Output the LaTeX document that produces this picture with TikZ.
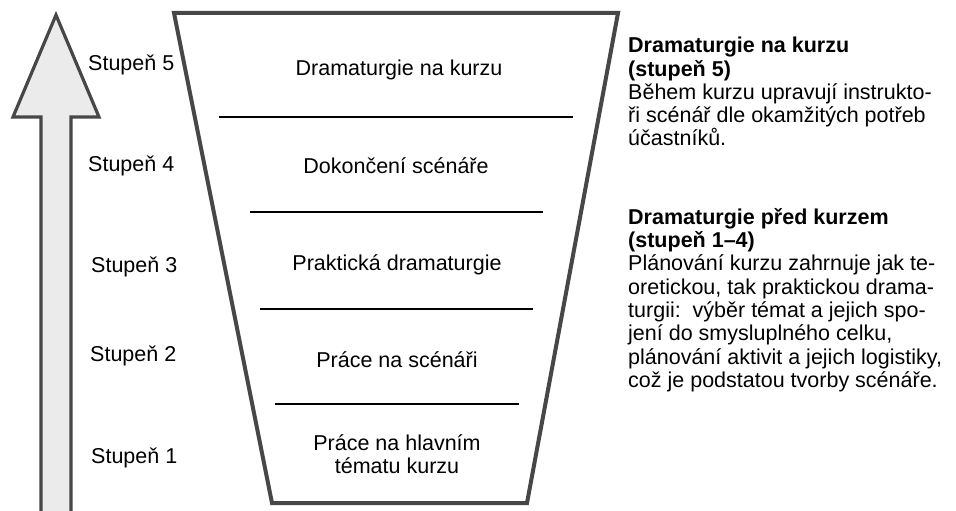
\documentclass[tikz,border=0pt]{standalone}
\usepackage{fontspec}
\setmainfont{Liberation Sans}
\usetikzlibrary{positioning}

\begin{document}
\begin{tikzpicture}[x=1pt,y=-1pt,
    every node/.style={font=\fontsize{21.5}{23.3}\selectfont},
    level/.style={anchor=west,inner sep=0pt},
    stage/.style={align=center,inner sep=0pt},
    note/.style={anchor=north west,align=left,inner sep=0pt}]
  \useasboundingbox (0,0) rectangle (956,511);
  % arrow
  \draw[line width=3.2pt,draw=black!72,fill=black!8,line join=miter]
    (41,511) -- (41,117) -- (13,117) -- (56,15) -- (99,117) -- (71,117) -- (71,511);
  % trapezoid
  \coordinate (TL) at (174,13);
  \coordinate (TR) at (618,13);
  \coordinate (BR) at (527,503);
  \coordinate (BL) at (272,503);
  \draw[line width=4pt,draw=black!72,line join=miter] (TL) -- (TR) -- (BR) -- (BL) -- cycle;
  % dividers
  \draw[line width=1.2pt] (219,117) -- (573,117);
  \draw[line width=1.2pt] (250,212) -- (543,212);
  \draw[line width=1.2pt] (260,309) -- (533,309);
  \draw[line width=1.2pt] (275,404) -- (519,404);
  % stages
  \node[stage] (s5) at (399,70) {Dramaturgie na kurzu};
  \node[stage] (s4) at (396,166) {Dokončení scénáře};
  \node[stage] (s3) at (397,265) {Praktická dramaturgie};
  \node[stage] (s2) at (397,360) {Práce na scénáři};
  \node[stage] (s1) at (397,454) {Práce na hlavním\\tématu kurzu};
  % levels
  \node[level] (l5) at (88,65) {Stupeň 5};
  \node[level] (l4) at (88,166) {Stupeň 4};
  \node[level] (l3) at (91,267) {Stupeň 3};
  \node[level] (l2) at (90,356) {Stupeň 2};
  \node[level] (l1) at (91,458) {Stupeň 1};
  % notes
  \node[note] (n1) at (628,37) {\textbf{Dramaturgie na kurzu}\\\textbf{(stupeň 5)}\\Během kurzu upravují instrukto-\\ři scénář dle okamžitých potřeb\\účastníků.};
  \node[note] (n2) at (628,208) {\textbf{Dramaturgie před kurzem}\\\textbf{(stupeň 1–4)}\\Plánování kurzu zahrnuje jak te-\\oretickou, tak praktickou drama-\\turgii:\ \ výběr témat a jejich spo-\\jení do smysluplného celku,\\plánování aktivit a jejich logistiky,\\což je podstatou tvorby scénáře.};
\end{tikzpicture}
\end{document}
